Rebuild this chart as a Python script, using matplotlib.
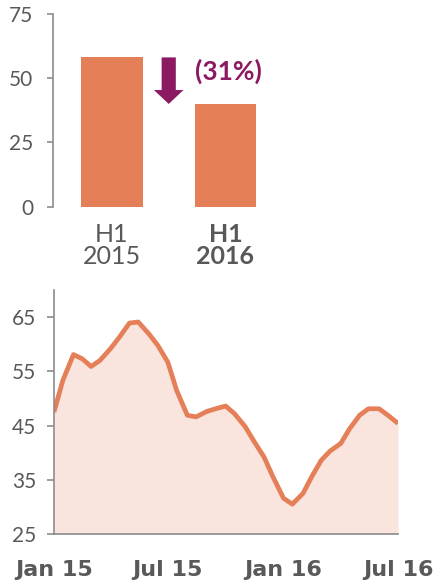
import matplotlib
matplotlib.use('Agg')
import matplotlib.pyplot as plt
import pandas as pd

plt.rcParams['font.family'] = ['Lato', 'DejaVu Sans']

# 上段：H1 比較
bar_labels = ['H1\n2015', 'H1\n2016']
bar_values = [58.1, 40.0]
change_label = '(31%)'

# 下段：半月ごとの推移
dates = pd.date_range('2015-01-01', '2016-07-01', freq='SMS')
values = [47.5, 53.3, 58.1, 57.3, 55.9, 57.0, 59.2, 61.3, 63.9, 64.1,
          61.9, 59.8, 56.7, 51.5, 46.9, 46.6, 47.6, 48.1, 48.6, 47.2,
          44.8, 42.1, 39.2, 35.6, 31.6, 30.5, 32.5, 35.6, 38.6, 40.3,
          41.7, 44.4, 46.9, 48.1, 48.1, 46.9, 45.4]
tick_dates = pd.to_datetime(['2015-01-01', '2015-07-01', '2016-01-01', '2016-07-01'])
tick_labels = ['Jan 15', 'Jul 15', 'Jan 16', 'Jul 16']

ORANGE = '#E47F58'
FILL = '#F9E4DE'
PURPLE = '#8C1A62'
GREY = '#595959'
AXIS = '#8C8C8C'

fig = plt.figure(figsize=(4.35, 5.8), dpi=100)

# 上段
ax1 = fig.add_axes([0.1207, 0.6436, 0.5463, 0.3323])
ax1.bar(range(len(bar_values)), bar_values, width=0.54, color=ORANGE)
ax1.set_xlim(-0.524, 1.57)
ax1.set_ylim(0, 75)
ax1.set_yticks([0, 25, 50, 75])
for s in ['top', 'right', 'bottom']:
    ax1.spines[s].set_visible(False)
ax1.spines['left'].set_color(AXIS)
ax1.spines['left'].set_linewidth(1.2)
ax1.tick_params(axis='y', colors=AXIS, length=4, width=1.2, pad=10,
                labelsize=15, labelcolor=GREY)
ax1.set_xticks(range(len(bar_labels)))
ax1.set_xticklabels(bar_labels, fontsize=18, color=GREY, linespacing=0.95)
ax1.tick_params(axis='x', length=0, pad=12)
ax1.get_xticklabels()[1].set_fontweight('bold')

# 減少矢印
ax1.arrow(0.5, bar_values[0], 0, bar_values[1] - bar_values[0],
          width=0.125, head_width=0.26, head_length=5.4,
          length_includes_head=True, color=PURPLE, lw=0)
ax1.text(0.73, 52.5, change_label, color=PURPLE, fontsize=19,
         fontweight='bold', ha='left', va='center')

# 下段
ax2 = fig.add_axes([0.1241, 0.0793, 0.7908, 0.4207])
ax2.fill_between(dates, 25, values, color=FILL, lw=0)
ax2.plot(dates, values, color=ORANGE, lw=3.4, solid_joinstyle='round',
         solid_capstyle='butt')
ax2.set_xlim(dates[0], dates[-1])
ax2.set_ylim(25, 70)
ax2.set_yticks([25, 35, 45, 55, 65])
for s in ['top', 'right']:
    ax2.spines[s].set_visible(False)
for s in ['left', 'bottom']:
    ax2.spines[s].set_color(AXIS)
    ax2.spines[s].set_linewidth(1.2)
ax2.tick_params(axis='y', colors=AXIS, length=5, width=1.2, pad=8,
                labelsize=15, labelcolor=GREY)
ax2.set_xticks(tick_dates)
ax2.set_xticklabels(tick_labels, fontsize=16, fontweight='bold', color=GREY,
                    family='DejaVu Sans')
ax2.tick_params(axis='x', length=0, pad=19)

fig.savefig('out.png', dpi=100)
